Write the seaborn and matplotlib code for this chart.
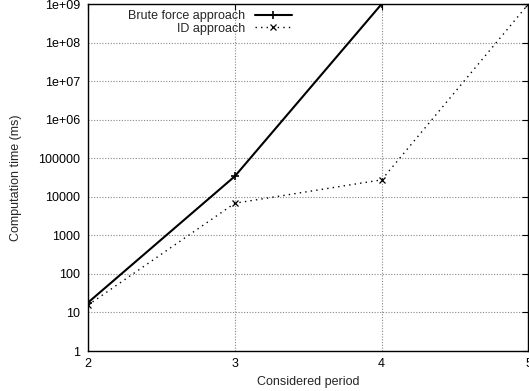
import matplotlib
matplotlib.use("Agg")
import matplotlib.pyplot as plt
import seaborn as sns
import pandas as pd
from matplotlib.ticker import FixedLocator, FixedFormatter, NullLocator

periods_brute = [2, 3, 4]
brute_times = [18, 34000, 1.0e9]
periods_id = [2, 3, 4, 5]
id_times = [15.5, 6800, 27500, 1.0e9]
series_names = ["Brute force approach", "ID approach"]
y_ticks = [1, 10, 100, 1000, 10000, 100000, 1e6, 1e7, 1e8, 1e9]
y_labels = ["1", "10", "100", "1000", "10000", "100000", "1e+06", "1e+07", "1e+08", "1e+09"]
x_ticks = [2, 3, 4, 5]

sns.set_theme(style="white")
plt.rcParams['font.family'] = ['Liberation Sans', 'DejaVu Sans']

df = pd.DataFrame({
    "period": periods_brute + periods_id,
    "time": brute_times + id_times,
    "series": [series_names[0]] * len(periods_brute) + [series_names[1]] * len(periods_id),
})

fig = plt.figure(figsize=(5.29, 3.91), dpi=100)
ax = fig.add_axes([88/529, 1 - 351/391, 1 - 88/529 - 0.001, (351 - 4)/391])

b = df[df.series == series_names[0]]
i = df[df.series == series_names[1]]
sns.lineplot(data=b, x="period", y="time", ax=ax, color="black", linewidth=1.5,
             marker="+", markersize=5.5, markeredgewidth=1.2, markeredgecolor="black",
             label=series_names[0])
sns.lineplot(data=i, x="period", y="time", ax=ax, color="black", linewidth=1.0,
             linestyle=(0, (1, 3)), marker="x", markersize=4.5, markeredgewidth=0.9,
             markeredgecolor="black", label=series_names[1])

ax.set_yscale("log")
ax.set_ylim(1, 1e9)
ax.set_xlim(2, 5)
ax.yaxis.set_major_locator(FixedLocator(y_ticks))
ax.yaxis.set_major_formatter(FixedFormatter(y_labels))
ax.yaxis.set_minor_locator(NullLocator())
ax.xaxis.set_major_locator(FixedLocator(x_ticks))
ax.set_xticklabels([str(v) for v in x_ticks])

ax.grid(True, which="major", color="#888888", linestyle=(0, (1, 1.5)), linewidth=0.8)
ax.tick_params(direction="in", length=4, width=0.8, colors="black", labelsize=9,
               top=True, right=True)
ax.tick_params(axis="y", pad=5.5)
ax.tick_params(axis="x", pad=5)
for s in ax.spines.values():
    s.set_color("black")
    s.set_linewidth(1.0)

ax.set_xlabel("Considered period", fontsize=9, labelpad=4)
ax.set_ylabel("Computation time (ms)", fontsize=9, labelpad=12)

leg = ax.legend(loc="upper right", bbox_to_anchor=(292/529, 1 - 10/391),
                bbox_transform=fig.transFigure, frameon=False,
                markerfirst=False, fontsize=9, handlelength=3.0, handletextpad=0.75,
                labelspacing=0.05, borderaxespad=0, borderpad=0)
for t in leg.get_texts():
    t.set_ha("right")
leg._legend_box.align = "right"

fig.savefig("out.png", dpi=100)
